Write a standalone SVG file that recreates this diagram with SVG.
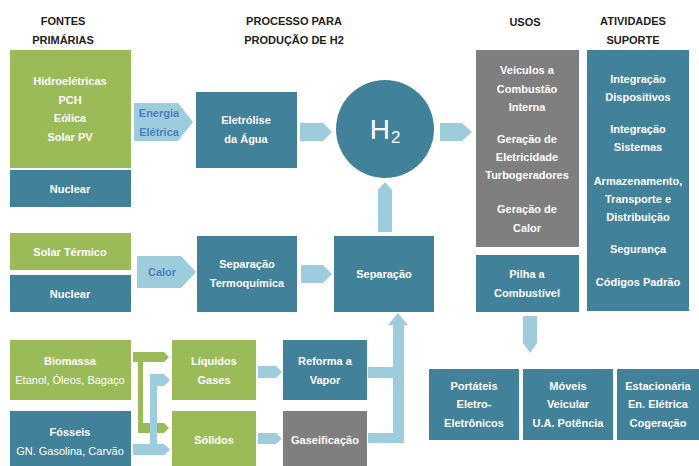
<svg xmlns="http://www.w3.org/2000/svg" width="699" height="466" viewBox="0 0 699 466">
<style>
text{font-family:"Liberation Sans",Arial,sans-serif;font-size:11px;font-weight:bold;text-anchor:middle}
.t{fill:#222}
.w{fill:#fff}
.r{font-weight:normal}
.blue{fill:#4f7fbf}
.g{fill:#9bbb59}
.b{fill:#42819a}
.gr{fill:#7f7f7f}
.a{fill:#9dcddd}
</style>
<rect width="699" height="466" fill="#fff"/>
<g id="titles">
<text class="t" x="63" y="25">FONTES</text>
<text class="t" x="63" y="44">PRIMÁRIAS</text>
<text class="t" x="294" y="25">PROCESSO PARA</text>
<text class="t" x="294" y="44">PRODUÇÃO DE H2</text>
<text class="t" x="525" y="26">USOS</text>
<text class="t" x="633" y="25">ATIVIDADES</text>
<text class="t" x="633" y="44">SUPORTE</text>
</g>
<g id="connectors">
<path class="a" d="M134,103H178L193,122L178,141H134Z"/>
<path class="a" d="M300,123H323L332,132L323,141H300Z"/>
<path class="a" d="M440,123H462L472,132L462,141H440Z"/>
<path class="a" d="M137,256H181L196,272L181,288H137Z"/>
<path class="a" d="M301,265H323L332,274L323,283H301Z"/>
<path class="a" d="M378,232V190L385,182L392,190V232Z"/>
<path class="a" d="M258,366H276L282,372L276,378H258Z"/>
<path class="a" d="M258,433H276L282,438.5L276,444H258Z"/>
<path class="a" d="M368,367H393V325H388L398,313L408,325H404V443H368V433H393V378H368Z"/>
<path class="a" d="M523,316H537V343L530,353L523,343Z"/>
<path class="g" d="M133,352H164L169,357L164,362H143V423H164L169,428L164,433H138V362H133Z"/>
<path class="a" d="M150,374H164L170,380L164,386H157V444H164L170,449.5L164,455H133V444H150Z"/>
</g>
<g id="fontes-renovaveis">
<rect class="g" x="10" y="50" width="121" height="118"/>
<text class="w" x="70" y="85">Hidroelétricas</text>
<text class="w" x="70" y="104">PCH</text>
<text class="w" x="70" y="122">Eólica</text>
<text class="w" x="70" y="141">Solar PV</text>
</g>
<g id="nuclear1">
<rect class="b" x="10" y="170" width="121" height="37"/>
<text class="w" x="70" y="193">Nuclear</text>
</g>
<g id="energia-eletrica">
<text class="blue" x="159" y="117">Energia</text>
<text class="blue" x="159" y="136">Elétrica</text>
</g>
<g id="eletrolise">
<rect class="b" x="196" y="92" width="101" height="76"/>
<text class="w" x="246" y="124">Eletrólise</text>
<text class="w" x="246" y="143">da Água</text>
</g>
<g id="h2">
<circle class="b" cx="385" cy="129" r="49"/>
<text class="w" x="385" y="139" style="font-size:28px;font-weight:normal">H<tspan dx="1" dy="4" style="font-size:17px">2</tspan></text>
</g>
<g id="solar-termico">
<rect class="g" x="10" y="233" width="121" height="37"/>
<text class="w" x="70" y="256">Solar Térmico</text>
</g>
<g id="nuclear2">
<rect class="b" x="10" y="275" width="121" height="37"/>
<text class="w" x="70" y="298">Nuclear</text>
</g>
<g id="calor">
<text class="blue" x="162" y="276">Calor</text>
</g>
<g id="sep-termo">
<rect class="b" x="197" y="236" width="100" height="76"/>
<text class="w" x="247" y="268">Separação</text>
<text class="w" x="247" y="287">Termoquímica</text>
</g>
<g id="separacao">
<rect class="b" x="334" y="236" width="100" height="76"/>
<text class="w" x="384" y="278">Separação</text>
</g>
<g id="biomassa">
<rect class="g" x="10" y="340" width="121" height="60"/>
<text class="w" x="70" y="365">Biomassa</text>
<text class="w r" x="70" y="384">Etanol, Óleos, Bagaço</text>
</g>
<g id="fosseis">
<rect class="b" x="10" y="411" width="121" height="58"/>
<text class="w" x="70" y="436">Fósseis</text>
<text class="w r" x="70" y="455">GN. Gasolina, Carvão</text>
</g>
<g id="liquidos">
<rect class="g" x="172" y="340" width="84" height="60"/>
<text class="w" x="214" y="365">Líquidos</text>
<text class="w" x="214" y="384">Gases</text>
</g>
<g id="solidos">
<rect class="g" x="172" y="411" width="84" height="58"/>
<text class="w" x="214" y="444">Sólidos</text>
</g>
<g id="reforma">
<rect class="b" x="283" y="340" width="84" height="60"/>
<text class="w" x="325" y="365">Reforma a</text>
<text class="w" x="325" y="384">Vapor</text>
</g>
<g id="gaseificacao">
<rect class="gr" x="283" y="411" width="84" height="58"/>
<text class="w" x="325" y="444">Gaseificação</text>
</g>
<g id="usos">
<rect class="gr" x="476" y="50" width="103" height="197"/>
<text class="w" x="527" y="74">Veículos a</text>
<text class="w" x="527" y="93">Combustão</text>
<text class="w" x="527" y="111">Interna</text>
<text class="w" x="527" y="143">Geração de</text>
<text class="w" x="527" y="161">Eletricidade</text>
<text class="w" x="527" y="179">Turbogeradores</text>
<text class="w" x="527" y="213">Geração de</text>
<text class="w" x="527" y="232">Calor</text>
</g>
<g id="pilha">
<rect class="b" x="476" y="255" width="103" height="57"/>
<text class="w" x="527" y="278">Pilha a</text>
<text class="w" x="527" y="297">Combustível</text>
</g>
<g id="atividades">
<rect class="b" x="587" y="50" width="102" height="261"/>
<text class="w" x="638" y="83">Integração</text>
<text class="w" x="638" y="101">Dispositivos</text>
<text class="w" x="638" y="133">Integração</text>
<text class="w" x="638" y="151">Sistemas</text>
<text class="w" x="638" y="185">Armazenamento,</text>
<text class="w" x="638" y="203">Transporte e</text>
<text class="w" x="638" y="221">Distribuição</text>
<text class="w" x="638" y="253">Segurança</text>
<text class="w" x="638" y="286">Códigos Padrão</text>
</g>
<g id="portateis">
<rect class="b" x="429" y="369" width="90" height="71"/>
<text class="w" x="474" y="390">Portáteis</text>
<text class="w" x="474" y="408">Eletro-</text>
<text class="w" x="474" y="427">Eletrônicos</text>
</g>
<g id="moveis">
<rect class="b" x="523" y="369" width="90" height="71"/>
<text class="w" x="568" y="390">Móveis</text>
<text class="w" x="568" y="408">Veicular</text>
<text class="w" x="568" y="427">U.A. Potência</text>
</g>
<g id="estacionaria">
<rect class="b" x="617" y="369" width="85" height="71"/>
<text class="w" x="658" y="390">Estacionária</text>
<text class="w" x="658" y="408">En. Elétrica</text>
<text class="w" x="658" y="427">Cogeração</text>
</g>
</svg>
